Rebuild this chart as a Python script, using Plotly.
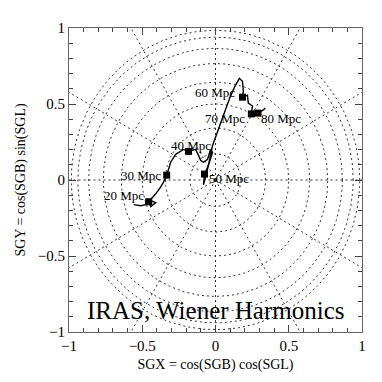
import numpy as np
import plotly.graph_objects as go

# Trajectory of the dipole direction (SGX, SGY)
path_x = [-0.558, -0.510, -0.476, -0.442, -0.408, -0.442, -0.456, -0.408, -0.374, -0.354, -0.333,
          -0.306, -0.272, -0.252, -0.218, -0.184, -0.136, -0.116, -0.102, -0.082, -0.054, -0.034,
          -0.020, -0.048, -0.068, -0.075, -0.082, -0.068, -0.048, -0.020, 0.034, 0.102, 0.136,
          0.163, 0.184, 0.190, 0.184, 0.218, 0.224, 0.252, 0.245, 0.286, 0.293, 0.327, 0.340]
path_y = [-0.162, -0.169, -0.162, -0.136, -0.149, -0.175, -0.143, -0.091, -0.045, -0.013, 0.032,
          0.117, 0.169, 0.182, 0.201, 0.188, 0.201, 0.162, 0.130, 0.117, 0.136, 0.201,
          0.182, 0.097, 0.052, 0.039, -0.032, 0.019, 0.097, 0.227, 0.377, 0.552, 0.623,
          0.669, 0.649, 0.584, 0.545, 0.558, 0.506, 0.487, 0.435, 0.442, 0.442, 0.461, 0.474]

# Labelled depths
depth_labels = ["20 Mpc", "30 Mpc", "40 Mpc", "50 Mpc", "60 Mpc", "70 Mpc", "80 Mpc"]
depth_x = [-0.456, -0.333, -0.184, -0.075, 0.184, 0.245, 0.290]
depth_y = [-0.143, 0.032, 0.188, 0.039, 0.545, 0.435, 0.440]

# Grid: latitude circles (SGB = 10..80 deg) and longitude lines every 30 deg
grid_lat_deg = [10, 20, 30, 40, 50, 60, 70, 80]
grid_lon_deg = [0, 30, 60, 90, 120, 150, 180, 210, 240, 270, 300, 330]

tick_vals = [-1, -0.5, 0, 0.5, 1]
tick_text = ["\u22121", "\u22120.5", "0", "0.5", "1"]

fig = go.Figure()
grid_line = dict(color="#333", width=1, dash="2px,3px")
theta = np.linspace(0, 2 * np.pi, 361)
for b in grid_lat_deg:
    r = np.cos(np.radians(b))
    fig.add_trace(go.Scatter(x=r * np.cos(theta), y=r * np.sin(theta), mode="lines",
                             line=grid_line, hoverinfo="skip", showlegend=False))
for l in grid_lon_deg:
    a = np.radians(l)
    fig.add_trace(go.Scatter(x=[0, 1.5 * np.cos(a)], y=[0, 1.5 * np.sin(a)], mode="lines",
                             line=grid_line, hoverinfo="skip", showlegend=False))

fig.add_trace(go.Scatter(x=path_x, y=path_y, mode="lines",
                         line=dict(color="black", width=1.4), showlegend=False))
fig.add_trace(go.Scatter(x=depth_x, y=depth_y, mode="markers",
                         marker=dict(symbol="square", size=7, color="black"), showlegend=False))

label_style = [("right", -3, 6), ("right", -4, 0), ("center", 2, 6), ("left", 2, -4),
               ("right", -5, 5), ("right", -4, -5), ("left", 1, -5)]
for txt, x, y, (anc, dx, dy) in zip(depth_labels, depth_x, depth_y, label_style):
    fig.add_annotation(x=x, y=y, text=txt, showarrow=False, xanchor=anc, yanchor="middle",
                       xshift=dx, yshift=dy,
                       font=dict(family="Liberation Serif", size=13, color="black"))

fig.add_annotation(x=0, y=-0.857, text="IRAS, Wiener Harmonics", showarrow=False,
                   xanchor="center", yanchor="middle",
                   font=dict(family="Liberation Serif", size=25, color="black"))

axis_common = dict(range=[-1, 1], tickvals=tick_vals, ticktext=tick_text, ticks="inside",
                   ticklen=7, tickwidth=1, tickcolor="#444", showline=True, linecolor="#666",
                   linewidth=1, mirror="ticks", showgrid=False, zeroline=False,
                   minor=dict(dtick=0.1, tick0=0, ticklen=4, tickcolor="#444", ticks="inside"),
                   tickfont=dict(family="Liberation Serif", size=15, color="black"))

fig.update_layout(
    width=374, height=374,
    margin=dict(l=60, r=20, t=16, b=50),
    plot_bgcolor="white", paper_bgcolor="white",
    xaxis=dict(**axis_common, title=dict(text="SGX = cos(SGB) cos(SGL)",
               font=dict(family="Liberation Serif", size=14, color="black"), standoff=6)),
    yaxis=dict(**axis_common, title=dict(text="SGY = cos(SGB) sin(SGL)",
               font=dict(family="Liberation Serif", size=14, color="black"), standoff=8)),
)

fig.write_html("out.html")
